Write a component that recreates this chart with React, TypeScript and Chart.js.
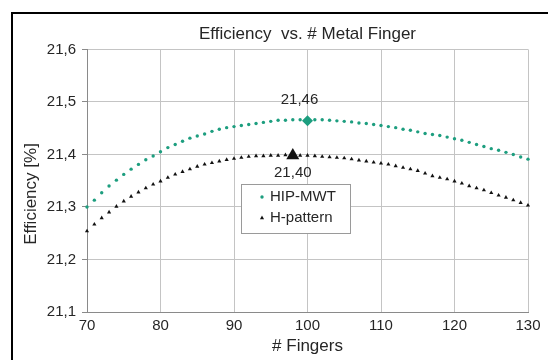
import React, { useEffect, useRef } from 'react';
import { Chart, registerables } from 'chart.js';
import { drawPoint } from 'chart.js/helpers';

Chart.register(...registerables);

const TITLE = 'Efficiency  vs. # Metal Finger';
const X_TITLE = '# Fingers';
const Y_TITLE = 'Efficiency [%]';
const SERIES_NAMES = ['HIP-MWT', 'H-pattern'];

const fingers = [
  70, 71, 72, 73, 74, 75, 76, 77, 78, 79,
  80, 81, 82, 83, 84, 85, 86, 87, 88, 89,
  90, 91, 92, 93, 94, 95, 96, 97, 98, 99,
  100, 101, 102, 103, 104, 105, 106, 107, 108, 109,
  110, 111, 112, 113, 114, 115, 116, 117, 118, 119,
  120, 121, 122, 123, 124, 125, 126, 127, 128, 129,
  130,
];

const hipMwt = [
  21.300, 21.313, 21.327, 21.340, 21.351, 21.362, 21.372, 21.381, 21.390, 21.397,
  21.405, 21.413, 21.419, 21.425, 21.431, 21.435, 21.439, 21.444, 21.448, 21.451,
  21.453, 21.455, 21.457, 21.459, 21.461, 21.463, 21.465, 21.465, 21.466, 21.466,
  21.466, 21.466, 21.466, 21.465, 21.464, 21.463, 21.462, 21.460, 21.459, 21.457,
  21.455, 21.453, 21.451, 21.448, 21.446, 21.443, 21.440, 21.438, 21.436, 21.433,
  21.430, 21.427, 21.423, 21.419, 21.415, 21.411, 21.408, 21.404, 21.400, 21.395,
  21.391,
];

const hPattern = [
  21.254, 21.267, 21.279, 21.290, 21.301, 21.311, 21.320, 21.328, 21.336, 21.343,
  21.349, 21.356, 21.362, 21.367, 21.372, 21.377, 21.381, 21.384, 21.387, 21.390,
  21.392, 21.394, 21.396, 21.397, 21.397, 21.398, 21.398, 21.399, 21.399, 21.398,
  21.398, 21.397, 21.396, 21.395, 21.394, 21.393, 21.391, 21.389, 21.387, 21.385,
  21.383, 21.381, 21.378, 21.375, 21.372, 21.369, 21.364, 21.359, 21.356, 21.353,
  21.349, 21.345, 21.340, 21.336, 21.332, 21.327, 21.322, 21.318, 21.313, 21.308,
  21.303,
];

const peakX = [100, 98];
const peakY = [21.464, 21.398];

const X_MIN = 70;
const X_MAX = 130;
const X_STEP = 10;
const Y_MIN = 21.1;
const Y_MAX = 21.6;
const Y_STEP = 0.1;

const GREEN = '#1d9e7f';
const BLACK = '#111111';
const FONT = "'Liberation Sans', Arial, sans-serif";
const TEXT = '#262626';
const GRID = '#c4c4c4';
const AXIS = '#8a8a8a';

const fmt = (v: number, d: number) => v.toFixed(d).replace('.', ',');

const framePlugin = {
  id: 'frame',
  beforeDraw(chart: any) {
    const { ctx, width, height } = chart;
    ctx.save();
    ctx.fillStyle = '#ffffff';
    ctx.fillRect(0, 0, width, height);
    ctx.fillStyle = '#000000';
    ctx.fillRect(11, 12, 2, height - 12);
    ctx.fillRect(11, 12, width - 11, 2);
    ctx.restore();
  },
};

const yTitlePlugin = {
  id: 'yTitle',
  afterDraw(chart: any) {
    const { ctx } = chart;
    ctx.save();
    ctx.translate(31, 194);
    ctx.rotate(-Math.PI / 2);
    ctx.font = `17px ${FONT}`;
    ctx.fillStyle = TEXT;
    ctx.textAlign = 'center';
    ctx.textBaseline = 'middle';
    ctx.fillText(Y_TITLE, 0, 0);
    ctx.restore();
  },
};

const peakLabelPlugin = {
  id: 'peakLabels',
  afterDatasetsDraw(chart: any) {
    const { ctx } = chart;
    ctx.save();
    ctx.font = `15px ${FONT}`;
    ctx.fillStyle = TEXT;
    ctx.textAlign = 'center';
    ctx.textBaseline = 'middle';
    const m0 = chart.getDatasetMeta(2).data[0];
    const m1 = chart.getDatasetMeta(3).data[0];
    if (m0) ctx.fillText(fmt(peakY[0], 2), m0.x - 8, m0.y - 21);
    if (m1) ctx.fillText(fmt(peakY[1], 2), m1.x, m1.y + 17);
    ctx.restore();
  },
};

const legendPlugin = {
  id: 'boxLegend',
  afterDraw(chart: any) {
    const { ctx } = chart;
    const left = 241;
    const top = 184;
    const w = 109;
    const h = 49;
    ctx.save();
    ctx.fillStyle = '#ffffff';
    ctx.fillRect(left, top, w, h);
    ctx.strokeStyle = '#9a9a9a';
    ctx.lineWidth = 1;
    ctx.strokeRect(left + 0.5, top + 0.5, w, h);
    ctx.font = `15px ${FONT}`;
    ctx.textAlign = 'left';
    ctx.textBaseline = 'middle';
    [0, 1].forEach((i) => {
      const ds = chart.data.datasets[i];
      const y = top + 13 + i * 21;
      ctx.fillStyle = ds.backgroundColor;
      ctx.strokeStyle = ds.backgroundColor;
      drawPoint(ctx, { pointStyle: ds.pointStyle, radius: ds.pointRadius, borderWidth: 0, rotation: 0 } as any, left + 21, y);
      ctx.fillStyle = TEXT;
      ctx.fillText(ds.label, left + 29, y);
    });
    ctx.restore();
  },
};

export default function App() {
  const ref = useRef<HTMLCanvasElement | null>(null);

  useEffect(() => {
    document.body.style.margin = '0';
    const canvas = ref.current;
    if (!canvas) return;
    const pts = (ys: number[]) => fingers.map((x, i) => ({ x, y: ys[i] }));
    const chart = new Chart(canvas, {
      type: 'scatter',
      data: {
        datasets: [
          {
            label: SERIES_NAMES[0],
            data: pts(hipMwt),
            pointStyle: 'circle',
            pointRadius: 1.7,
            pointBorderWidth: 0,
            backgroundColor: GREEN,
            borderColor: GREEN,
            showLine: false,
            clip: false,
          },
          {
            label: SERIES_NAMES[1],
            data: pts(hPattern),
            pointStyle: 'triangle',
            pointRadius: 2.4,
            pointBorderWidth: 0,
            backgroundColor: BLACK,
            borderColor: BLACK,
            showLine: false,
            clip: false,
          },
          {
            label: SERIES_NAMES[0] + ' max',
            data: [{ x: peakX[0], y: peakY[0] }],
            pointStyle: 'rectRot',
            pointRadius: 5.5,
            pointBorderWidth: 0,
            backgroundColor: GREEN,
            borderColor: GREEN,
            showLine: false,
            clip: false,
          },
          {
            label: SERIES_NAMES[1] + ' max',
            data: [{ x: peakX[1], y: peakY[1] }],
            pointStyle: 'triangle',
            pointRadius: 7.5,
            pointBorderWidth: 0,
            backgroundColor: BLACK,
            borderColor: BLACK,
            showLine: false,
            clip: false,
          },
        ],
      },
      options: {
        responsive: false,
        animation: false,
        events: [],
        layout: { padding: { left: 14, right: 20, top: 0, bottom: 0 } },
        plugins: {
          legend: { display: false },
          tooltip: { enabled: false },
          title: {
            display: true,
            text: TITLE,
            fullSize: false,
            color: TEXT,
            font: { family: FONT, size: 17, weight: 'normal' },
            padding: { top: 24, bottom: 5 },
          },
        },
        scales: {
          x: {
            type: 'linear',
            min: X_MIN,
            max: X_MAX,
            ticks: {
              stepSize: X_STEP,
              color: TEXT,
              font: { family: FONT, size: 15 },
              padding: 5,
            },
            grid: { color: GRID, drawTicks: false, lineWidth: 1 },
            border: { color: AXIS, width: 1 },
            title: {
              display: true,
              text: X_TITLE,
              color: TEXT,
              font: { family: FONT, size: 17 },
              padding: { top: 0, bottom: 3 },
            },
            afterFit(scale: any) {
              scale.height = 48;
            },
          },
          y: {
            type: 'linear',
            min: Y_MIN,
            max: Y_MAX,
            ticks: {
              stepSize: Y_STEP,
              color: TEXT,
              font: { family: FONT, size: 15 },
              padding: 6,
              callback: (v: any) => fmt(Number(v), 1),
            },
            grid: { color: GRID, tickColor: AXIS, tickLength: 5, lineWidth: 1 },
            border: { color: AXIS, width: 1 },
            title: { display: false, text: Y_TITLE },
            afterFit(scale: any) {
              scale.width = 73;
            },
          },
        },
      },
      plugins: [framePlugin, peakLabelPlugin, legendPlugin, yTitlePlugin],
    });
    return () => chart.destroy();
  }, []);

  return (
    <div style={{ position: 'fixed', left: 0, top: 0, width: 548, height: 360, background: '#fff' }}>
      <canvas ref={ref} width={548} height={360} />
    </div>
  );
}
